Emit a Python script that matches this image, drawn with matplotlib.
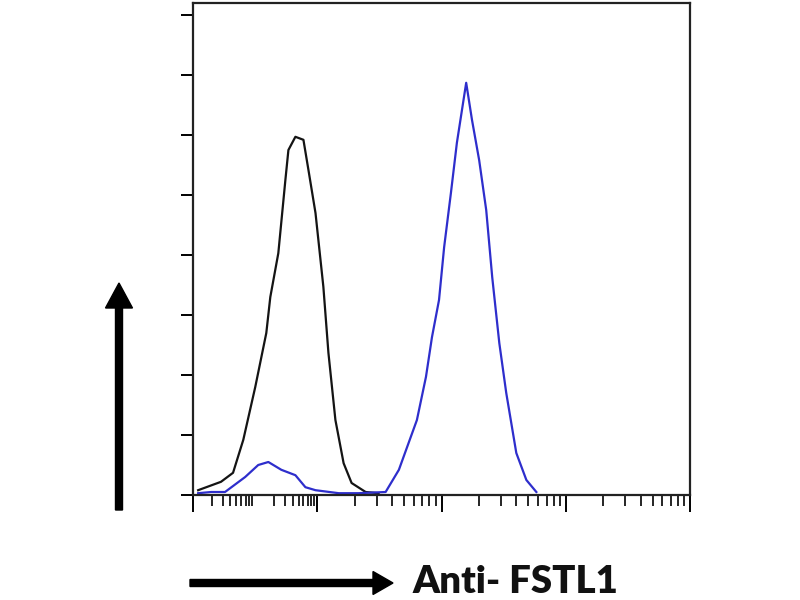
import matplotlib
matplotlib.use("Agg")
import matplotlib.pyplot as plt
from matplotlib.patches import FancyArrow
import numpy as np

# isotype control (black) histogram: fluorescence channel, count (scaled)
control_x = [1.1, 1.68, 2.1, 2.54, 3.17, 3.89, 4.19, 4.86, 5.54, 5.86, 6.67,
             7.74, 8.49, 9.68, 11.2, 12.3, 14.0, 16.3, 18.9, 24.5, 31.2]
control_y = [0.08, 0.22, 0.37, 0.92, 1.8, 2.7, 3.3, 4.03, 5.25, 5.75, 5.97,
             5.92, 5.42, 4.7, 3.47, 2.37, 1.25, 0.53, 0.2, 0.05, 0.03]

# Anti-FSTL1 stained (blue) histogram
stained_x = [1.1, 1.4, 1.81, 2.63, 3.35, 4.04, 5.14, 6.67, 8.03, 9.68, 14.9,
             21.5, 35.5, 45.4, 63.4, 75, 83.8, 95.5, 105, 119, 133, 158,
             176, 201, 229, 256, 292, 332, 400, 482, 580]
stained_y = [0.03, 0.05, 0.05, 0.3, 0.5, 0.55, 0.42, 0.33, 0.13, 0.08, 0.03,
             0.03, 0.05, 0.42, 1.25, 1.97, 2.63, 3.25, 4.13, 5.03, 5.87, 6.87,
             6.25, 5.58, 4.75, 3.63, 2.53, 1.7, 0.7, 0.25, 0.05]

x_label = "Anti- FSTL1"

fig = plt.figure(figsize=(8, 6), dpi=100)
ax = fig.add_axes([193 / 800, 105 / 600, 497 / 800, 492 / 600])

ax.plot(control_x, control_y, color="#141414", lw=1.6)
ax.plot(stained_x, stained_y, color="#2e2ecc", lw=1.6)

ax.set_xscale("log")
ax.set_xlim(1, 1e4)
ax.set_ylim(0, 8.2)
ax.set_yticks(np.arange(0, 9))
ax.set_xticks([1, 10, 100, 1000, 10000])
# first decade is drawn with a compressed double set of minor ticks
first = [10 ** (0.5 * np.log10(m)) for m in range(2, 10)]
first += [10 ** (0.5 + 0.5 * np.log10(m)) for m in range(2, 10)]
rest = [m * d for d in [10, 100, 1000] for m in range(2, 10)]
ax.set_xticks(first + rest, minor=True)
ax.tick_params(axis="y", direction="out", length=9, width=1.4, labelleft=False)
ax.tick_params(axis="x", which="major", direction="out", length=12, width=1.4,
               labelbottom=False)
ax.tick_params(axis="x", which="minor", direction="out", length=8, width=1.2,
               labelbottom=False)
for s in ax.spines.values():
    s.set_linewidth(1.6)
    s.set_color("#222222")

# overlay in pixel coordinates for the arrows and label
ov = fig.add_axes([0, 0, 1, 1], zorder=-1)
ov.set_xlim(0, 800)
ov.set_ylim(600, 0)
ov.axis("off")
ov.add_patch(FancyArrow(119, 510, 0, -227, width=7, head_width=27,
                        head_length=25, length_includes_head=True,
                        color="black"))
ov.add_patch(FancyArrow(190, 583, 203, 0, width=7, head_width=23,
                        head_length=20, length_includes_head=True,
                        color="black"))
ov.text(413, 582, x_label, fontsize=27.5, fontweight="heavy", family="Lato",
        ha="left", va="center", color="#111111")

fig.savefig("out.png", dpi=100)
